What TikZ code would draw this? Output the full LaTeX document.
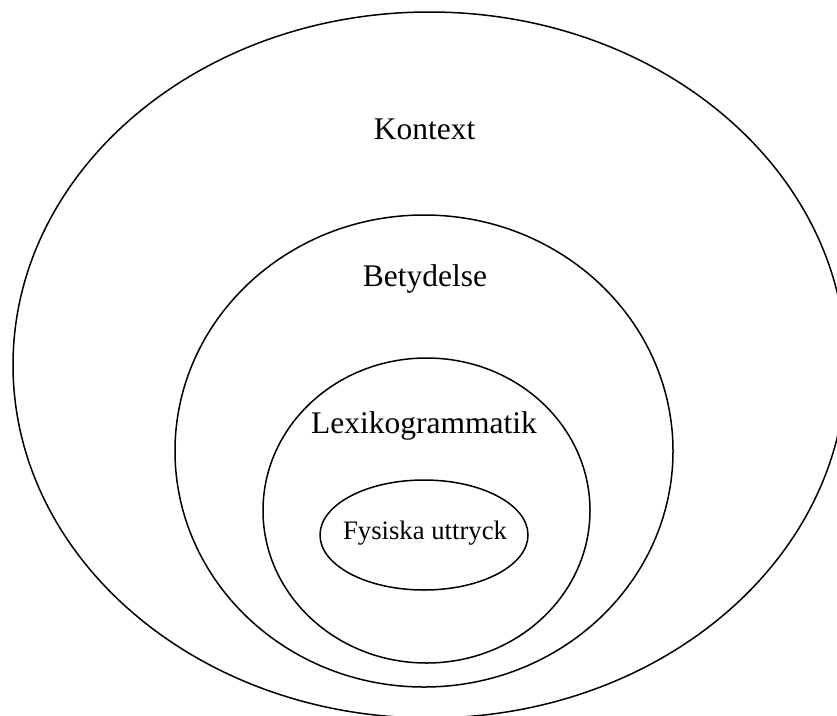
\documentclass[tikz,border=0pt]{standalone}
\usepackage{fontspec}
\setmainfont{Liberation Serif}
\usetikzlibrary{positioning,shapes.geometric}

\begin{document}
\begin{tikzpicture}[x=1pt,y=-1pt,
  ring/.style={ellipse,draw,line width=1.5pt,inner sep=0pt},
  layer/.style={anchor=base,font=\fontsize{31.5}{36}\selectfont},
  core/.style={anchor=base,font=\fontsize{26.7}{32}\selectfont}
]
\useasboundingbox (0,0) rectangle (837,715);
\clip (0,0) rectangle (837,715);
\node[ring,minimum width=833pt,minimum height=706pt] (kontext) at (429.5,365) {};
\node[ring,minimum width=498pt,minimum height=472pt] (betydelse) at (424,451) {};
\node[ring,minimum width=327pt,minimum height=305pt] (lexiko) at (426.5,510.5) {};
\node[ring,minimum width=208pt,minimum height=110pt] (fysiska) at (424,535) {};
\node[layer] (kontextlbl) at (424.5,139) {Kontext};
\node[layer] (betydelselbl) at (425,286) {Betydelse};
\node[layer] (lexikolbl) at (424,433) {Lexikogrammatik};
\node[core] (fysiskalbl) at (425,539) {Fysiska uttryck};
\end{tikzpicture}
\end{document}
